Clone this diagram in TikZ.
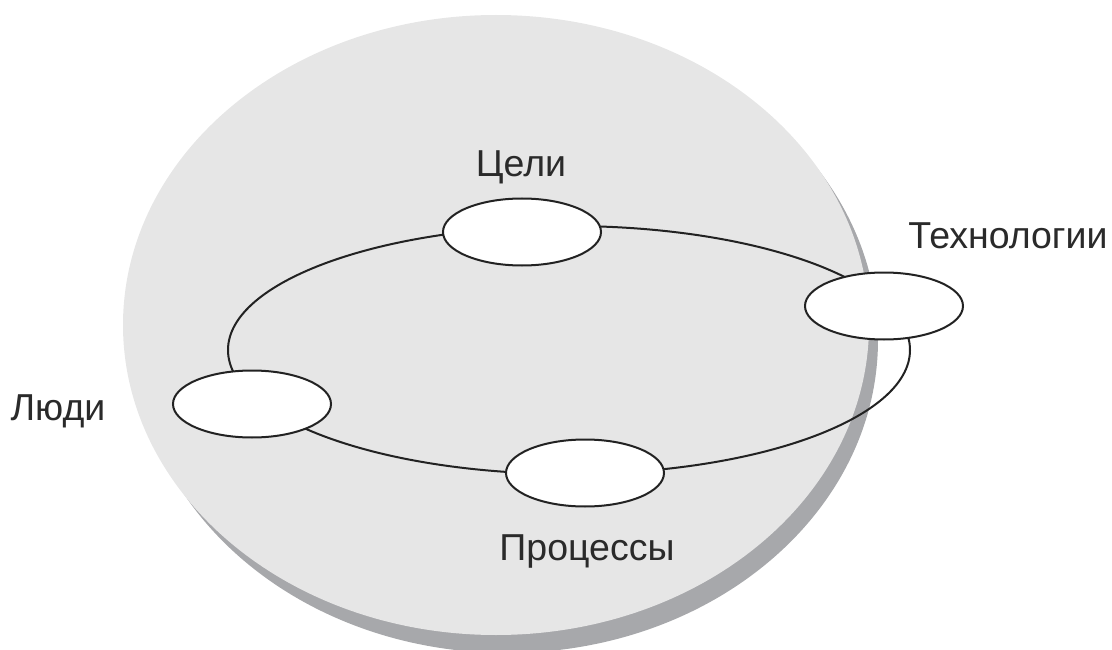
\documentclass[tikz,border=0pt]{standalone}
\usepackage{fontspec}
\setmainfont{Liberation Sans}
\usetikzlibrary{shapes.geometric}
\definecolor{disklight}{HTML}{E6E6E6}
\definecolor{diskshadow}{HTML}{A7A8AB}
\definecolor{inkline}{HTML}{222222}
\definecolor{inktext}{HTML}{2A2A2A}
\tikzset{
  elem/.style={ellipse, draw=inkline, line width=2pt, fill=white,
    minimum width=158pt, minimum height=67pt, inner sep=0pt},
  lbl/.style={text=inktext, font=\fontsize{37.5}{44}\selectfont, inner sep=0pt, anchor=base},
  ring/.style={draw=inkline, line width=2pt}
}
\begin{document}
\begin{tikzpicture}[x=1pt,y=-1pt]
\useasboundingbox (0,0) rectangle (1112,650);
% disk with shadow
\fill[diskshadow] (507,340) ellipse [x radius=371, y radius=313];
\fill[disklight] (496,325) ellipse [x radius=373, y radius=310];
% ring
\draw[ring] (569,350) ellipse [x radius=341, y radius=124];
% elements
\node[elem] (goals) at (522,232) {};
\node[elem] (tech) at (884,306) {};
\node[elem] (people) at (252,404) {};
\node[elem] (proc) at (585,473) {};
% labels
\node[lbl] (goalsl) at (521,177) {Цели};
\node[lbl] (techl) at (1008,248) {Технологии};
\node[lbl] (peoplel) at (58,420) {Люди};
\node[lbl] (procl) at (587,560) {Процессы};
\end{tikzpicture}
\end{document}
